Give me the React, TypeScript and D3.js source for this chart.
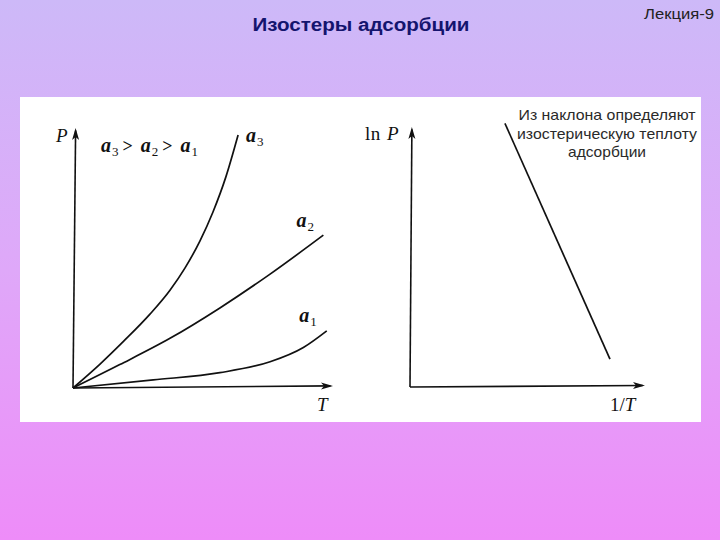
import React from "react";
import * as d3 from "d3";

const W = 720;
const H = 540;

// Left panel: isosteres P(T) for three adsorption values (data units 0..100)
const curveA3: [number, number][] = [
  [0, 0], [10.4, 9.2], [19.6, 18.1], [29.6, 28.4], [37.3, 37.6], [43.1, 46.2],
  [48.8, 56.5], [53.8, 67.6], [58.8, 81.2], [63.5, 97.3],
];
const curveA2: [number, number][] = [
  [0, 0], [18, 9.0], [37.3, 19.1], [56.5, 30.8], [75.8, 43.8], [96.3, 58.8],
];
const curveA1: [number, number][] = [
  [0, 0], [30.9, 3.1], [56.5, 5.9], [75.8, 10.1], [88.6, 15.6], [97.6, 22],
];
// Right panel: ln P vs 1/T straight line
const lnLine: [number, number][] = [
  [40.4, 101.4], [85.1, 10.7],
];

const curveLabels = [
  { sub: "3", x: 66.5, y: 94.5 },
  { sub: "2", x: 86, y: 62 },
  { sub: "1", x: 87, y: 25.5 },
];

const noteLines = ["Из наклона определяют", "изостерическую теплоту", "адсорбции"];
const noteWidths = [177, 180, 78];

const titleText = "Изостеры адсорбции";
const lectureText = "Лекция-9";

export default function App() {
  const lx = d3.scaleLinear().domain([0, 100]).range([73, 333]);
  const ly = d3.scaleLinear().domain([0, 100]).range([388, 128]);
  const rx = d3.scaleLinear().domain([0, 100]).range([410, 645]);
  const ry = d3.scaleLinear().domain([0, 100]).range([387, 127]);

  const lineL = d3
    .line<[number, number]>()
    .x((d) => lx(d[0]))
    .y((d) => ly(d[1]))
    .curve(d3.curveMonotoneX);
  const lineR = d3
    .line<[number, number]>()
    .x((d) => rx(d[0]))
    .y((d) => ry(d[1]));

  const serif = "'Liberation Serif', 'DejaVu Serif', serif";
  const sans = "'Liberation Sans', Arial, sans-serif";

  const arrowUp = (x: number, y: number) =>
    `M${x},${y} L${x - 3.5},${y + 12} L${x},${y + 9} L${x + 3.5},${y + 12} Z`;
  const arrowRight = (x: number, y: number) =>
    `M${x},${y} L${x - 12},${y - 3.5} L${x - 9},${y} L${x - 12},${y + 3.5} Z`;

  const aLabel = (sub: string, x: number, y: number, key?: string) => (
    <text key={key} x={x} y={y} fontFamily={serif} fontSize={20} fontStyle="italic" fontWeight="bold" fill="#111">
      a
      <tspan dy={4} dx={1} fontSize={13} fontStyle="normal" fontWeight="normal" fill="#111">
        {sub}
      </tspan>
    </text>
  );

  return (
    <svg
      width={W}
      height={H}
      style={{ position: "absolute", left: 0, top: 0 }}
      xmlns="http://www.w3.org/2000/svg"
    >
      <defs>
        <linearGradient id="bg" x1="0" y1="0" x2="0" y2="1">
          <stop offset="0" stopColor="#cdb9f8" />
          <stop offset="0.5" stopColor="#dfa8f9" />
          <stop offset="1" stopColor="#ee8cf9" />
        </linearGradient>
      </defs>
      <rect x={0} y={0} width={W} height={H} fill="url(#bg)" />

      <text
        x={361}
        y={31}
        textAnchor="middle"
        fontFamily={sans}
        fontWeight="bold"
        fontSize={18}
        fill="#14146e"
        textLength={217}
        lengthAdjust="spacingAndGlyphs"
      >
        {titleText}
      </text>
      <text
        x={679}
        y={19}
        textAnchor="middle"
        fontFamily={sans}
        fontSize={14}
        fill="#222"
        textLength={70}
        lengthAdjust="spacingAndGlyphs"
      >
        {lectureText}
      </text>

      <rect x={20} y={97} width={681} height={325} fill="#ffffff" />

      {/* Left panel axes */}
      <line x1={lx(0)} y1={ly(0)} x2={lx(1)} y2={ly(99)} stroke="#111" strokeWidth={1.6} />
      <path d={arrowUp(lx(1), ly(100))} fill="#111" />
      <line x1={lx(0)} y1={ly(0)} x2={lx(99)} y2={ly(0.8)} stroke="#111" strokeWidth={1.6} />
      <path d={arrowRight(lx(100), ly(0.8))} fill="#111" />

      {[curveA3, curveA2, curveA1].map((c, i) => (
        <path key={i} d={lineL(c) || ""} fill="none" stroke="#111" strokeWidth={1.7} />
      ))}

      <text x={56} y={142} fontFamily={serif} fontSize={19} fontStyle="italic" fill="#111">P</text>
      <text x={317} y={411} fontFamily={serif} fontSize={19} fontStyle="italic" fill="#111">T</text>

      {/* inequality label */}
      <text x={101} y={152} fontFamily={serif} fontSize={20} fontStyle="italic" fontWeight="bold" fill="#111">
        a<tspan dy={4} dx={1} fontSize={13} fontStyle="normal" fontWeight="normal">3</tspan>
        <tspan dy={-4} dx={4} fontSize={18} fontStyle="normal">&gt;</tspan>
        <tspan dx={8}>a</tspan>
        <tspan dy={4} dx={1} fontSize={13} fontStyle="normal" fontWeight="normal">2</tspan>
        <tspan dy={-4} dx={4} fontSize={18} fontStyle="normal">&gt;</tspan>
        <tspan dx={8}>a</tspan>
        <tspan dy={4} dx={1} fontSize={13} fontStyle="normal" fontWeight="normal">1</tspan>
      </text>

      {curveLabels.map((l) => aLabel(l.sub, lx(l.x), ly(l.y), "lab" + l.sub))}

      {/* Right panel axes */}
      <line x1={rx(0)} y1={ry(0)} x2={rx(0.8)} y2={ry(99)} stroke="#111" strokeWidth={1.6} />
      <path d={arrowUp(rx(0.8), ry(100))} fill="#111" />
      <line x1={rx(0)} y1={ry(0)} x2={rx(99)} y2={ry(0.6)} stroke="#111" strokeWidth={1.6} />
      <path d={arrowRight(rx(100), ry(0.6))} fill="#111" />

      <path d={lineR(lnLine) || ""} fill="none" stroke="#111" strokeWidth={1.7} />

      <text x={365} y={140} fontFamily={serif} fontSize={19} fill="#111" letterSpacing={0.5}>
        ln <tspan dx={1} fontStyle="italic">P</tspan>
      </text>
      <text x={610} y={411} fontFamily={serif} fontSize={19} fill="#111">
        1/<tspan fontStyle="italic">T</tspan>
      </text>

      {noteLines.map((t, i) => (
        <text
          key={i}
          x={607}
          y={120 + i * 18.5}
          textAnchor="middle"
          fontFamily={sans}
          fontSize={15}
          fill="#2a2a2a"
          textLength={noteWidths[i]}
          lengthAdjust="spacingAndGlyphs"
        >
          {t}
        </text>
      ))}
    </svg>
  );
}
